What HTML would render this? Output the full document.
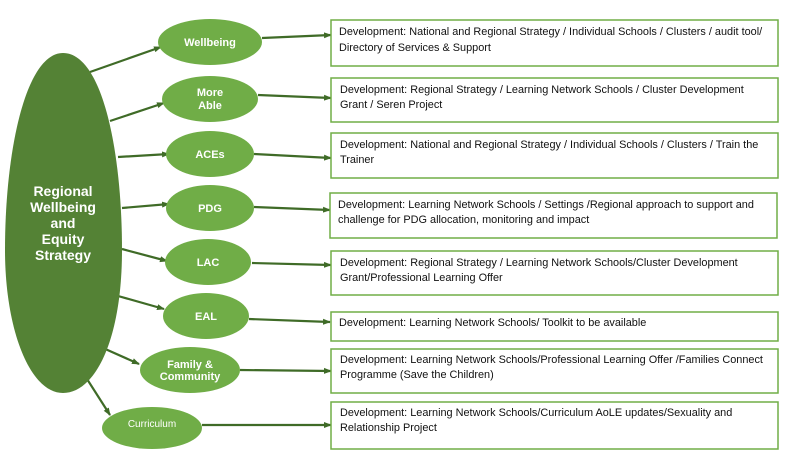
<!DOCTYPE html>
<html><head><meta charset="utf-8"><style>
html,body{margin:0;padding:0;background:#fff;width:791px;height:475px;overflow:hidden}
svg text{font-family:"Liberation Sans",sans-serif}
</style></head><body>
<svg width="791" height="475" viewBox="0 0 791 475" xmlns="http://www.w3.org/2000/svg">
<defs>
<marker id="a" markerWidth="8" markerHeight="8" refX="7" refY="4" orient="auto" markerUnits="userSpaceOnUse">
<path d="M0,1 L8,4 L0,7 Z" fill="#3f6b27"/></marker>
</defs>
<g stroke="#3f6b27" stroke-width="2.2" fill="none" marker-end="url(#a)">
<line x1="90" y1="72" x2="161" y2="47"/>
<line x1="110" y1="121" x2="164" y2="103"/>
<line x1="118" y1="157" x2="169" y2="154"/>
<line x1="122" y1="208" x2="169" y2="204"/>
<line x1="122" y1="249" x2="167" y2="261"/>
<line x1="118" y1="296" x2="164" y2="309"/>
<line x1="103" y1="348" x2="139" y2="364"/>
<line x1="87" y1="379" x2="110" y2="415"/>
<line x1="262" y1="38" x2="331" y2="35"/>
<line x1="258" y1="95" x2="331" y2="98"/>
<line x1="254" y1="154" x2="331" y2="158"/>
<line x1="254" y1="207" x2="330" y2="210"/>
<line x1="252" y1="263" x2="331" y2="265"/>
<line x1="249" y1="319" x2="330" y2="322"/>
<line x1="240" y1="370" x2="331" y2="371"/>
<line x1="202" y1="425" x2="331" y2="425"/>
</g>
<path d="M63,53 C102,53 122,150 122,250 C122,340 95,393 63,393 C30,393 5,330 5,250 C5,150 26,53 63,53 Z" fill="#548235"/>
<g fill="#70ad47">
<ellipse cx="210" cy="42" rx="52" ry="23"/>
<ellipse cx="210" cy="99" rx="48" ry="23"/>
<ellipse cx="210" cy="154" rx="44" ry="23"/>
<ellipse cx="210" cy="208" rx="44" ry="23"/>
<ellipse cx="208" cy="262" rx="43" ry="23"/>
<ellipse cx="206" cy="316" rx="43" ry="23"/>
<ellipse cx="190" cy="370" rx="50" ry="23"/>
<ellipse cx="152" cy="428" rx="50" ry="21"/>
</g>
<g fill="#fff" font-weight="bold" font-size="14" text-anchor="middle">
<text x="63" y="196">Regional</text>
<text x="63" y="212">Wellbeing</text>
<text x="63" y="228">and</text>
<text x="63" y="244">Equity</text>
<text x="63" y="260">Strategy</text>
</g>
<g fill="#fff" font-weight="bold" font-size="11" text-anchor="middle">
<text x="210" y="46">Wellbeing</text>
<text x="210" y="96">More</text>
<text x="210" y="109">Able</text>
<text x="210" y="158">ACEs</text>
<text x="210" y="212">PDG</text>
<text x="208" y="266">LAC</text>
<text x="206" y="320">EAL</text>
<text x="190" y="368">Family &amp;</text>
<text x="190" y="380">Community</text>
<text x="152" y="427" font-weight="normal" font-size="10">Curriculum</text>
</g>
<g fill="#fff" stroke="#70ad47" stroke-width="1.5">
<rect x="331" y="20" width="447" height="46"/>
<rect x="331" y="78" width="447" height="44"/>
<rect x="331" y="133" width="447" height="45"/>
<rect x="330" y="193" width="447" height="45"/>
<rect x="331" y="251" width="447" height="44"/>
<rect x="331" y="312" width="447" height="29"/>
<rect x="331" y="349" width="447" height="44"/>
<rect x="331" y="402" width="447" height="47"/>
</g>
<g fill="#111" font-size="10.9">
<text x="339" y="35">Development: National and Regional Strategy / Individual Schools / Clusters / audit tool/</text>
<text x="339" y="51">Directory of Services &amp; Support</text>
<text x="340" y="93">Development: Regional Strategy / Learning Network Schools / Cluster Development</text>
<text x="340" y="108">Grant / Seren Project</text>
<text x="340" y="148">Development: National and Regional Strategy / Individual Schools / Clusters / Train the</text>
<text x="340" y="163">Trainer</text>
<text x="338" y="208">Development: Learning Network Schools / Settings /Regional approach to support and</text>
<text x="338" y="223">challenge for PDG allocation, monitoring and impact</text>
<text x="340" y="266">Development: Regional Strategy / Learning Network Schools/Cluster Development</text>
<text x="340" y="281">Grant/Professional Learning Offer</text>
<text x="339" y="326">Development: Learning Network Schools/ Toolkit to be available</text>
<text x="340" y="363">Development: Learning Network Schools/Professional Learning Offer /Families Connect</text>
<text x="340" y="378">Programme (Save the Children)</text>
<text x="340" y="416">Development: Learning Network Schools/Curriculum AoLE updates/Sexuality and</text>
<text x="340" y="431">Relationship Project</text>
</g>
</svg>
</body></html>
